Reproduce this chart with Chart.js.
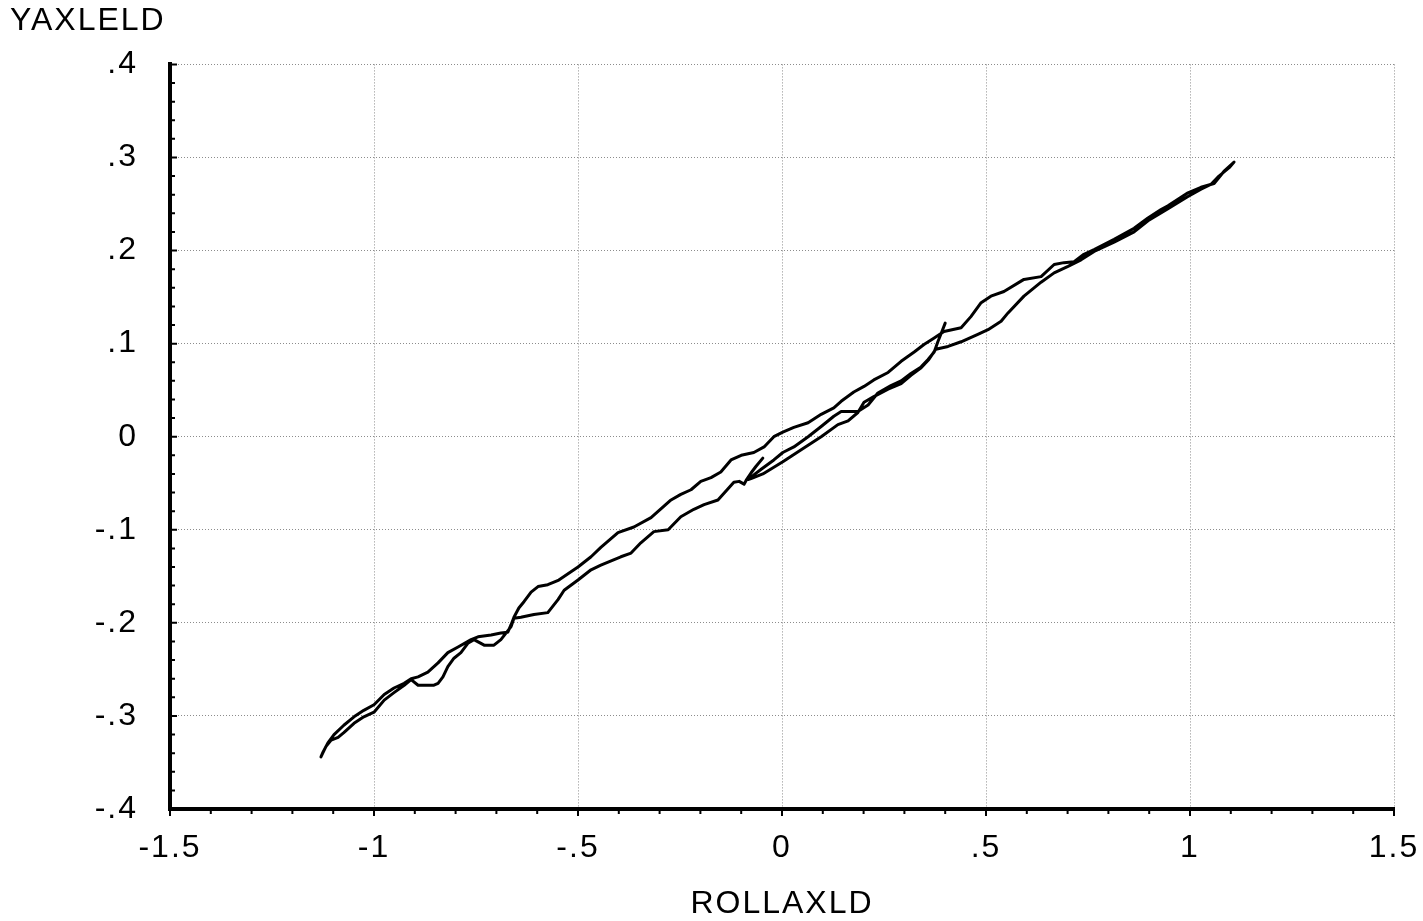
<!DOCTYPE html>
<html>
<head>
<meta charset="utf-8">
<title>YAXLELD vs ROLLAXLD</title>
<script src="https://cdn.jsdelivr.net/npm/chart.js@4.4.0/dist/chart.umd.min.js"></script>
<style>
  html, body { margin: 0; padding: 0; background: #fff; }
</style>
</head>
<body>
<canvas id="chart" width="1423" height="921"></canvas>
<script>
// one continuous trace, split where it turns round
const hookPath = [[-0.047, -0.023], [-0.064, -0.032], [-0.076, -0.039], [-0.088, -0.047], [-0.093, -0.051]]

const lowerLeftPath = [
  [-0.105, -0.048], [-0.118, -0.049], [-0.157, -0.068], [-0.191, -0.073], [-0.216, -0.078],
  [-0.248, -0.086], [-0.279, -0.100], [-0.314, -0.102], [-0.346, -0.114], [-0.370, -0.125],
  [-0.395, -0.129], [-0.444, -0.138], [-0.468, -0.143], [-0.500, -0.154], [-0.534, -0.165],
  [-0.549, -0.175], [-0.574, -0.189], [-0.608, -0.191], [-0.640, -0.194], [-0.657, -0.195],
  [-0.664, -0.204], [-0.689, -0.218], [-0.706, -0.224], [-0.730, -0.224], [-0.755, -0.218],
  [-0.770, -0.222], [-0.787, -0.232], [-0.804, -0.238], [-0.819, -0.247], [-0.831, -0.258],
  [-0.843, -0.265], [-0.853, -0.267], [-0.892, -0.267], [-0.909, -0.261], [-0.926, -0.267],
  [-0.951, -0.275], [-0.975, -0.283], [-1.000, -0.296], [-1.025, -0.301], [-1.049, -0.308],
  [-1.074, -0.318], [-1.088, -0.323], [-1.105, -0.326], [-1.118, -0.333], [-1.130, -0.344]
]

const upperSweepPath = [
  [-1.125, -0.339], [-1.113, -0.329], [-1.098, -0.320], [-1.074, -0.310], [-1.049, -0.301],
  [-1.025, -0.294], [-1.000, -0.288], [-0.975, -0.277], [-0.951, -0.270], [-0.926, -0.265],
  [-0.909, -0.260], [-0.892, -0.258], [-0.868, -0.253], [-0.843, -0.243], [-0.819, -0.232],
  [-0.794, -0.226], [-0.762, -0.218], [-0.745, -0.215], [-0.713, -0.213], [-0.689, -0.211],
  [-0.672, -0.210], [-0.664, -0.202], [-0.657, -0.194], [-0.645, -0.184], [-0.632, -0.177],
  [-0.615, -0.167], [-0.598, -0.161], [-0.574, -0.159], [-0.547, -0.154], [-0.500, -0.140],
  [-0.468, -0.129], [-0.444, -0.119], [-0.402, -0.103], [-0.363, -0.097], [-0.321, -0.087],
  [-0.272, -0.068], [-0.248, -0.062], [-0.223, -0.057], [-0.199, -0.048], [-0.174, -0.044],
  [-0.150, -0.038], [-0.125, -0.025], [-0.100, -0.020], [-0.069, -0.017], [-0.044, -0.011],
  [-0.020, 0.000], [0.002, 0.005], [0.029, 0.010], [0.064, 0.015], [0.096, 0.024],
  [0.127, 0.031], [0.145, 0.038], [0.176, 0.048], [0.201, 0.054], [0.225, 0.061],
  [0.260, 0.069], [0.292, 0.081], [0.324, 0.091], [0.348, 0.099], [0.373, 0.106],
  [0.397, 0.113], [0.439, 0.117], [0.463, 0.129], [0.488, 0.144], [0.512, 0.151],
  [0.544, 0.156], [0.593, 0.169], [0.635, 0.172], [0.667, 0.185], [0.691, 0.187],
  [0.716, 0.188], [0.740, 0.196], [0.765, 0.201], [0.814, 0.212], [0.863, 0.224],
  [0.897, 0.235], [0.929, 0.244], [0.946, 0.248], [0.995, 0.262], [1.027, 0.268],
  [1.059, 0.272], [1.083, 0.285], [1.108, 0.295]
]

const lowerSweepPath = [
  [1.096, 0.289], [1.071, 0.280], [1.051, 0.271], [1.027, 0.266], [0.995, 0.258],
  [0.946, 0.245], [0.897, 0.232], [0.863, 0.220], [0.814, 0.209], [0.765, 0.199],
  [0.733, 0.190], [0.701, 0.183], [0.667, 0.176], [0.635, 0.166], [0.593, 0.151],
  [0.554, 0.133], [0.537, 0.124], [0.505, 0.115], [0.480, 0.110], [0.439, 0.102],
  [0.407, 0.097], [0.377, 0.094]
]

const innerDownPath = [
  [0.360, 0.083], [0.341, 0.074], [0.316, 0.066], [0.292, 0.057], [0.260, 0.051],
  [0.225, 0.043], [0.201, 0.037], [0.186, 0.026], [0.162, 0.017], [0.137, 0.013],
  [0.096, 0.000], [0.047, -0.014], [0.002, -0.027], [-0.047, -0.040], [-0.076, -0.045],
  [-0.083, -0.046], [-0.069, -0.041]
]

const innerUpPath = [
  [-0.051, -0.035], [-0.020, -0.025], [0.002, -0.017], [0.029, -0.011], [0.064, 0.000],
  [0.096, 0.011], [0.127, 0.022], [0.145, 0.027], [0.186, 0.027], [0.211, 0.034],
  [0.235, 0.047], [0.267, 0.055], [0.292, 0.060], [0.316, 0.068], [0.341, 0.075],
  [0.358, 0.083], [0.373, 0.091], [0.382, 0.102], [0.392, 0.113], [0.400, 0.122]
]

const rollTicks = [-1.5, -1, -0.5, 0, 0.5, 1, 1.5]
const rollTickLabels = ['-1.5', '-1', '-.5', '0', '.5', '1', '1.5']
const yawTicks = [-0.4, -0.3, -0.2, -0.1, 0, 0.1, 0.2, 0.3, 0.4]
const yawTickLabels = ['-.4', '-.3', '-.2', '-.1', '0', '.1', '.2', '.3', '.4']

const tracePath = [].concat(hookPath, lowerLeftPath, upperSweepPath, lowerSweepPath, innerDownPath, innerUpPath)

const fontFamily = "'Liberation Sans', Arial, Helvetica, sans-serif"
const rollMinorStep = 0.1
const yawMinorStep = 0.02

// old plotting package spaces its letters out a bit
const spacing = {
  id: 'spacing',
  beforeLayout(chart) { chart.ctx.letterSpacing = '2px' },
  beforeDraw(chart) { chart.ctx.letterSpacing = '2px' }
}

// small minor ticks along both axes
const minorTicks = {
  id: 'minorTicks',
  afterDraw(chart) {
    const ctx = chart.ctx
    const xs = chart.scales.x
    const ys = chart.scales.y
    const area = chart.chartArea
    ctx.save()
    ctx.strokeStyle = '#000'
    ctx.lineWidth = 2
    ctx.beginPath()
    const nx = Math.round((xs.max - xs.min) / rollMinorStep)
    for (let i = 0; i <= nx; i++) {
      const px = xs.getPixelForValue(xs.min + i * rollMinorStep)
      const len = i % 5 === 0 ? 7 : 5
      ctx.moveTo(px, area.bottom)
      ctx.lineTo(px, area.bottom + len)
    }
    const ny = Math.round((ys.max - ys.min) / yawMinorStep)
    for (let j = 0; j <= ny; j++) {
      const py = ys.getPixelForValue(ys.min + j * yawMinorStep)
      const len = j % 5 === 0 ? 7 : 5
      ctx.moveTo(area.left, py)
      ctx.lineTo(area.left + len, py)
    }
    ctx.stroke()
    ctx.restore()
  }
}

Chart.defaults.font.family = fontFamily
Chart.defaults.font.size = 32
Chart.defaults.color = '#000'

new Chart(document.getElementById('chart').getContext('2d'), {
  type: 'scatter',
  data: {
    datasets: [{
      data: tracePath.map(p => ({x: p[0], y: p[1]})),
      showLine: true,
      borderColor: '#000',
      borderWidth: 3,
      borderJoinStyle: 'round',
      borderCapStyle: 'round',
      pointRadius: 0,
      tension: 0
    }]
  },
  options: {
    responsive: false,
    animation: false,
    layout: {padding: {left: 10, right: 29, top: 0, bottom: 0}},
    plugins: {
      legend: {display: false},
      tooltip: {enabled: false},
      title: {
        display: true,
        text: 'YAXLELD',
        align: 'start',
        color: '#000',
        font: {size: 32, weight: 'normal'},
        padding: {top: 2, bottom: 24}
      }
    },
    scales: {
      x: {
        type: 'linear',
        min: -1.5,
        max: 1.5,
        afterBuildTicks: s => { s.ticks = rollTicks.map(v => ({value: v})) },
        afterFit: s => {
          s.height = 112
          s.paddingLeft = 0
          s.paddingRight = 0
        },
        ticks: {
          padding: 20,
          maxRotation: 0,
          autoSkip: false,
          callback: (v, i) => rollTickLabels[i]
        },
        grid: {color: '#8c8c8c', lineWidth: 1, drawTicks: false},
        border: {color: '#000', width: 4, dash: [1, 2]},
        title: {
          display: true,
          text: 'ROLLAXLD',
          font: {size: 32},
          padding: {top: 0, bottom: -2}
        }
      },
      y: {
        type: 'linear',
        min: -0.4,
        max: 0.4,
        afterBuildTicks: s => { s.ticks = yawTicks.map(v => ({value: v})) },
        afterFit: s => {
          s.width = 160
          s.paddingTop = 0
          s.paddingBottom = 0
        },
        ticks: {
          padding: 32,
          autoSkip: false,
          callback: (v, i) => yawTickLabels[i]
        },
        grid: {color: '#8c8c8c', lineWidth: 1, drawTicks: false},
        border: {color: '#000', width: 4, dash: [1, 2]}
      }
    }
  },
  plugins: [spacing, minorTicks]
})
</script>
</body>
</html>
